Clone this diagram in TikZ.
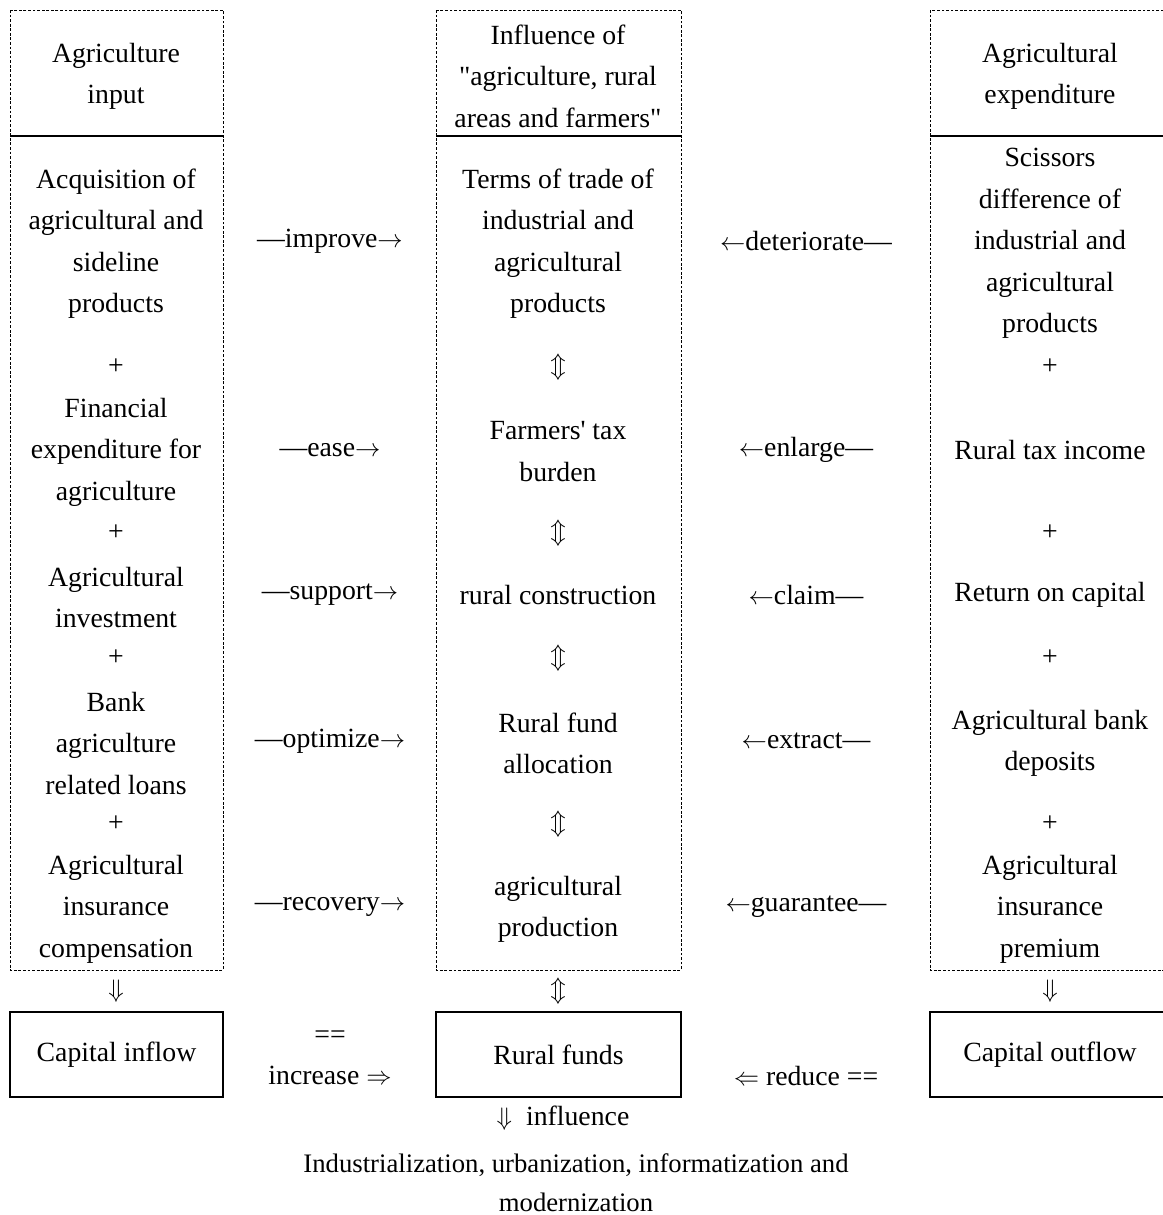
\documentclass[tikz,border=0pt]{standalone}
\usepackage{fontspec}
\setmainfont{Liberation Serif}[Ligatures=TeXOff]
\newcommand{\boxfont}{\fontsize{15.8}{23.6}\selectfont}
\newcommand{\footfont}{\fontsize{15.2}{22.2}\selectfont}
\newcommand{\ra}{$\rightarrow$}
\newcommand{\la}{$\leftarrow$}

\begin{document}
\begin{tikzpicture}[x=0.02cm,y=-0.02cm,
  column/.style={draw,line width=0.5pt,dash pattern=on 1.6pt off 1pt},
  divider/.style={line width=1.1pt},
  fundbox/.style={draw,line width=1.1pt,minimum width=4.26cm,minimum height=1.7cm,font=\boxfont},
  lbl/.style={align=center,font=\boxfont,inner sep=0pt},
  multi/.style={lbl,yshift=-1.2pt},
  sym/.style={font=\boxfont,inner sep=0pt}]
\useasboundingbox (0,0) rectangle (1163,1215);
\clip (0,0) rectangle (1163,1215);

% three columns
\draw[column] (10,10) rectangle (223,970);
\draw[column] (436,10) rectangle (681,970);
\draw[column] (930,10) rectangle (1190,970);
\draw[divider] (10,136) -- (223,136);
\draw[divider] (436,136) -- (681,136);
\draw[divider] (930,136) -- (1190,136);

% left column
\node[multi] (input) at (116,74) {Agriculture\\input};
\node[multi] (acq) at (116,241.5) {Acquisition of\\agricultural and\\sideline\\products};
\node[lbl] (plusA) at (116,367) {+};
\node[multi] (fin) at (116,450) {Financial\\expenditure for\\agriculture};
\node[lbl] (plusB) at (116,533) {+};
\node[multi] (invest) at (116,595.5) {Agricultural\\investment};
\node[lbl] (plusC) at (116,658) {+};
\node[multi] (loans) at (116,741) {Bank\\agriculture\\related loans};
\node[lbl] (plusD) at (116,824) {+};
\node[multi] (comp) at (116,907) {Agricultural\\insurance\\compensation};
\node[sym] (downL) at (116,991) {$\Downarrow$};
\node[fundbox] (inflow) at (116.5,1054.5) {Capital inflow};

% middle column
\node[multi] (infl) at (558,74) {Influence of\\"agriculture, rural\\areas and farmers"};
\node[multi] (terms) at (558,241.5) {Terms of trade of\\industrial and\\agricultural\\products};
\node[sym] (udA) at (558,367) {$\Updownarrow$};
\node[multi] (tax) at (558,449.5) {Farmers' tax\\burden};
\node[sym] (udB) at (558,533) {$\Updownarrow$};
\node[lbl] (constr) at (558,595) {rural construction};
\node[sym] (udC) at (558,658) {$\Updownarrow$};
\node[multi] (alloc) at (558,741) {Rural fund\\allocation};
\node[sym] (udD) at (558,824) {$\Updownarrow$};
\node[multi] (prod) at (558,907) {agricultural\\production};
\node[sym] (udE) at (558,991) {$\Updownarrow$};
\node[fundbox,minimum width=4.9cm] (funds) at (558.5,1054.5) {Rural funds};

% right column
\node[multi] (expend) at (1050,74) {Agricultural\\expenditure};
\node[multi] (sciss) at (1050,241.5) {Scissors\\difference of\\industrial and\\agricultural\\products};
\node[lbl] (plusE) at (1050,367) {+};
\node[lbl] (rtax) at (1050,450) {Rural tax income};
\node[lbl] (plusF) at (1050,533) {+};
\node[lbl] (roc) at (1050,595) {Return on capital};
\node[lbl] (plusG) at (1050,658) {+};
\node[multi] (depos) at (1050,741) {Agricultural bank\\deposits};
\node[lbl] (plusH) at (1050,824) {+};
\node[multi] (prem) at (1050,907) {Agricultural\\insurance\\premium};
\node[sym] (downR) at (1050,991) {$\Downarrow$};
\node[fundbox,minimum width=4.8cm] (outflow) at (1050,1054.5) {Capital outflow};

% left arrows
\node[lbl] (improve) at (330,241) {—improve\ra};
\node[lbl] (ease) at (330,450) {—ease\ra};
\node[lbl] (support) at (330,595) {—support\ra};
\node[lbl] (optimize) at (330,741) {—optimize\ra};
\node[lbl] (recovery) at (330,907) {—recovery\ra};
\node[multi] (increase) at (330,1055.5) {==\\increase $\Rightarrow$};

% right arrows
\node[lbl] (deter) at (806,241) {\la deteriorate—};
\node[lbl] (enlarge) at (806,450) {\la enlarge—};
\node[lbl] (claim) at (806,595) {\la claim—};
\node[lbl] (extract) at (806,741) {\la extract—};
\node[lbl] (guarantee) at (806,907) {\la guarantee—};
\node[lbl] (reduce) at (806,1076) {$\Leftarrow$ reduce ==};

% bottom
\node[lbl] (influence) at (563,1118) {$\Downarrow$\ \ influence};
\node[multi,font=\footfont] (modern) at (576,1180.5) {Industrialization, urbanization, informatization and\\modernization};
\end{tikzpicture}
\end{document}
